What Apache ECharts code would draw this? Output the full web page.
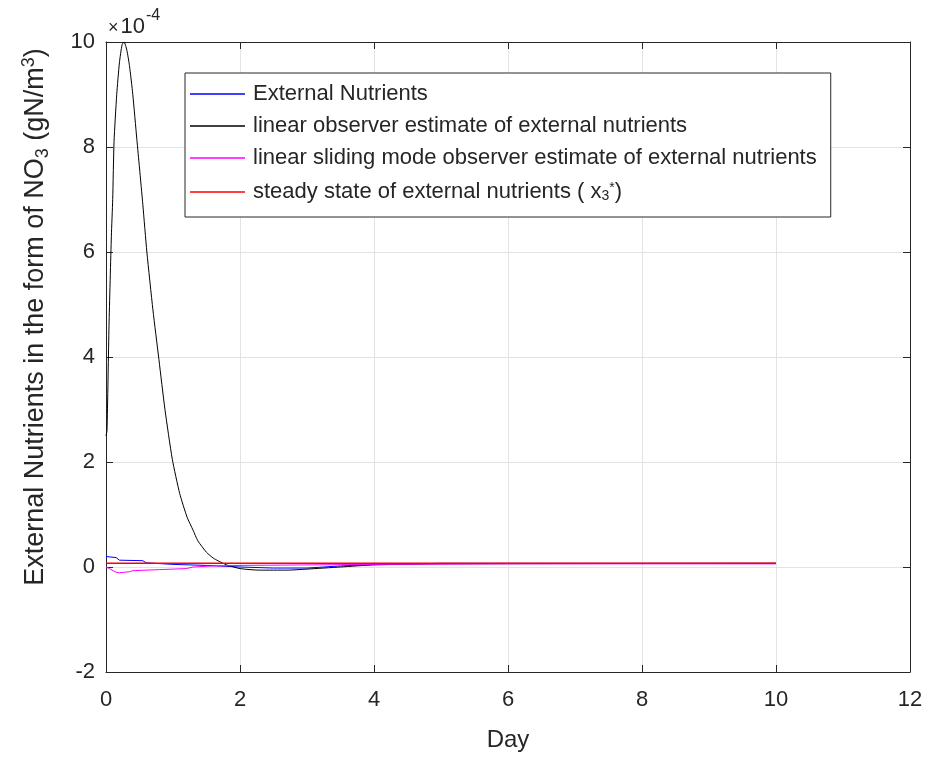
<!DOCTYPE html>
<html>
<head>
<meta charset="utf-8">
<script src="https://cdn.jsdelivr.net/npm/echarts@6/dist/echarts.min.js"></script>
<style>html,body{margin:0;padding:0;background:#fff}#c{width:927px;height:757px}</style>
</head>
<body>
<div id="c"></div>
<script>
// values in units of 1e-4 gN/m^3
const xTicks = [0, 2, 4, 6, 8, 10, 12];
const yTicks = [-2, 0, 2, 4, 6, 8, 10];

const extDays = [0, 0.15, 0.2, 0.55, 0.6, 1.0, 1.5, 2.0, 2.5, 3.0, 3.5, 4.0, 5, 10];
const extVals = [0.2, 0.18, 0.13, 0.12, 0.08, 0.05, 0.03, 0.0, -0.02, -0.02, 0.02, 0.05, 0.07, 0.07];

const linDays = [0, 0.015, 0.045, 0.08, 0.1, 0.12, 0.16, 0.2, 0.24, 0.27, 0.31, 0.35, 0.4, 0.46, 0.5, 0.55, 0.61, 0.7, 0.79, 0.88, 0.99, 1.1, 1.21, 1.3, 1.37, 1.5, 1.6, 1.67, 1.8, 2.0, 2.3, 2.7, 3.0, 3.5, 4.0, 5, 10];
const linVals = [2.5, 2.6, 4.6, 6.3, 7.0, 8.1, 9.0, 9.6, 9.95, 10.0, 9.85, 9.55, 9.0, 8.15, 7.6, 6.9, 6.0, 4.9, 3.95, 3.0, 2.05, 1.4, 0.95, 0.7, 0.5, 0.28, 0.17, 0.12, 0.04, -0.03, -0.06, -0.06, -0.04, 0.0, 0.04, 0.06, 0.07];

const smoDays = [0, 0.05, 0.15, 0.2, 0.35, 0.4, 0.8, 1.2, 1.3, 1.6, 2.0, 3.0, 4.0, 6, 10];
const smoVals = [0.0, -0.03, -0.1, -0.11, -0.09, -0.07, -0.05, -0.03, 0.0, 0.02, 0.03, 0.04, 0.05, 0.06, 0.06];

const ssDays = [0, 10];
const ssVals = [0.07, 0.07];

const names = [
  'External Nutrients',
  'linear observer estimate of external nutrients',
  'linear sliding mode observer estimate of external nutrients',
  'steady state of external nutrients ( x3* )'
];

const pair = (xs, ys) => xs.map((x, i) => [x, ys[i]]);
const FONT = 'Liberation Sans, Arial, Helvetica, sans-serif';
const AX = '#262626';

const chart = echarts.init(document.getElementById('c'));
const baseX = {min: 0, max: 12, interval: 2};
const baseY = {min: -2, max: 10, interval: 2};
const boxAxis = {
  axisLine: {show: true, onZero: false, lineStyle: {color: AX, width: 1}},
  axisTick: {show: true, inside: true, length: 7, lineStyle: {color: AX}},
  axisLabel: {show: false}, splitLine: {show: false}
};
chart.setOption({
  animation: false,
  backgroundColor: '#fff',
  grid: {left: 106, right: 17, top: 42, bottom: 83, containLabel: false},
  legend: {
    orient: 'vertical', left: 185, top: 73,
    data: names,
    icon: 'rect',
    itemWidth: 55, itemHeight: 1.5, itemGap: 10,
    padding: [10, 14, 12, 5],
    backgroundColor: '#fff', borderColor: AX, borderWidth: 1,
    textStyle: {fontFamily: FONT, fontSize: 22, color: AX, lineHeight: 22, padding: [0, 0, 0, 3],
      rich: {
        b: {fontFamily: FONT, fontSize: 22, color: AX, lineHeight: 22},
        sub: {fontFamily: FONT, fontSize: 14, color: AX, verticalAlign: 'bottom', lineHeight: 22, padding: [10, 0, 0, 0]},
        sup: {fontFamily: FONT, fontSize: 14, color: AX, verticalAlign: 'top', lineHeight: 22, padding: [0, 0, 10, 0]}
      }},
    formatter: function (n) {
      if (n === names[3]) return '{b|steady state of external nutrients ( x}{sub|3}{sup|*}{b|)}';
      return n;
    }
  },
  xAxis: [{
    type: 'value', ...baseX, position: 'bottom',
    name: 'Day', nameLocation: 'middle', nameGap: 56,
    nameTextStyle: {fontFamily: FONT, fontSize: 24, color: AX},
    axisLine: {show: true, onZero: false, lineStyle: {color: AX, width: 1}},
    axisTick: {show: true, inside: true, length: 7, lineStyle: {color: AX}},
    axisLabel: {fontFamily: FONT, fontSize: 22, color: AX, margin: 17,
      formatter: v => xTicks.includes(v) ? String(v) : ''},
    splitLine: {show: true, lineStyle: {color: '#e3e3e3', width: 1}}
  }, {
    type: 'value', ...baseX, position: 'top', ...boxAxis
  }],
  yAxis: [{
    type: 'value', ...baseY, position: 'left',
    name: 'External Nutrients in the form of NO{sub|3} (gN/m{sup|3})',
    nameLocation: 'middle', nameGap: 54, nameRotate: 90,
    nameTextStyle: {fontFamily: FONT, fontSize: 27, color: AX, padding: [0, 0, 0, 80],
      rich: {
        sub: {fontFamily: FONT, fontSize: 18, color: AX, verticalAlign: 'bottom', padding: [14, 0, 0, 0]},
        sup: {fontFamily: FONT, fontSize: 18, color: AX, verticalAlign: 'top', padding: [0, 0, 14, 0]}
      }},
    axisLine: {show: true, onZero: false, lineStyle: {color: AX, width: 1}},
    axisTick: {show: true, inside: true, length: 7, lineStyle: {color: AX}},
    axisLabel: {fontFamily: FONT, fontSize: 22, color: AX, margin: 11,
      formatter: v => yTicks.includes(v) ? String(v) : ''},
    splitLine: {show: true, lineStyle: {color: '#e3e3e3', width: 1}}
  }, {
    type: 'value', ...baseY, position: 'right', ...boxAxis
  }],
  graphic: [{
    type: 'text', left: 108, top: 8,
    style: {
      text: '{a|\u00d7}{c|10}{b|-4}',
      rich: {
        a: {fontFamily: FONT, fontSize: 18, fill: AX, padding: [10, 2, 0, 0]},
        c: {fontFamily: FONT, fontSize: 22, fill: AX, padding: [8, 0, 0, 0]},
        b: {fontFamily: FONT, fontSize: 16, fill: AX, verticalAlign: 'top', padding: [0, 0, 10, 1]}
      }
    }
  }],
  series: [
    {name: names[0], type: 'line', symbol: 'none', data: pair(extDays, extVals), lineStyle: {color: '#0000ff', width: 1}, itemStyle: {color: '#0000ff'}},
    {name: names[1], type: 'line', symbol: 'none', data: pair(linDays, linVals), smooth: 0.2, lineStyle: {color: '#000000', width: 1}, itemStyle: {color: '#000000'}},
    {name: names[2], type: 'line', symbol: 'none', data: pair(smoDays, smoVals), lineStyle: {color: '#ff00ff', width: 1}, itemStyle: {color: '#ff00ff'}},
    {name: names[3], type: 'line', symbol: 'none', data: pair(ssDays, ssVals), lineStyle: {color: '#ff0000', width: 1.5}, itemStyle: {color: '#ff0000'}}
  ]
});
</script>
</body>
</html>
